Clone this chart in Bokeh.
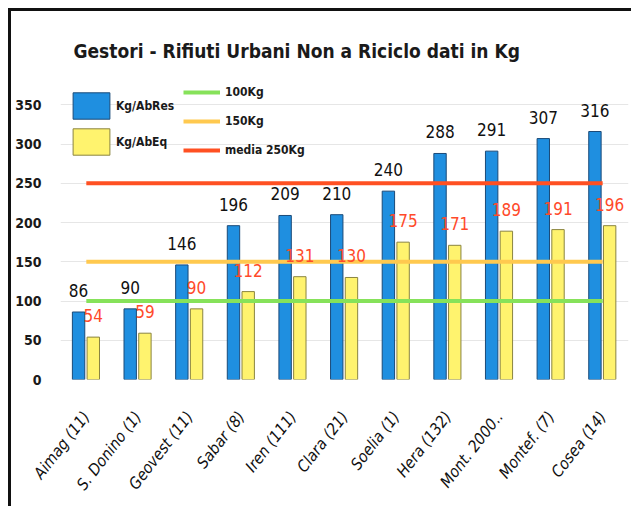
from bokeh.plotting import figure
from bokeh.models import (ColumnDataSource, FactorRange, Range1d, FixedTicker,
                          Legend, LegendItem)
from bokeh.transform import dodge
from bokeh.core.properties import value
from bokeh.embed import file_html
from bokeh.resources import INLINE

title_text = "Gestori - Rifiuti Urbani Non a Riciclo dati in Kg"
categories = ["Aimag (11)", "S. Donino (1)", "Geovest (11)", "Sabar (8)", "Iren (111)",
              "Clara (21)", "Soelia (1)", "Hera (132)", "Mont. 2000..", "Montef. (7)",
              "Cosea (14)"]
kg_abres = [86, 90, 146, 196, 209, 210, 240, 288, 291, 307, 316]
kg_abeq = [54, 59, 90, 112, 131, 130, 175, 171, 189, 191, 196]
ref_labels = ["100Kg", "150Kg", "media 250Kg"]
ref_values = [100, 150, 250]
y_ticks = [0, 50, 100, 150, 200, 250, 300, 350]

NARROW = "DejaVu Sans Condensed"

src = ColumnDataSource(dict(
    cat=categories, res=kg_abres, eq=kg_abeq,
    res_lbl=[str(v) for v in kg_abres], eq_lbl=[str(v) for v in kg_abeq]))

p = figure(width=623, height=498, output_backend="svg", toolbar_location=None,
           x_range=FactorRange(factors=categories, range_padding=0),
           y_range=Range1d(0, 381),
           min_border_left=49, min_border_right=6, min_border_top=69,
           min_border_bottom=130)
p.styles = {"border-top": "3px solid #111", "border-left": "3px solid #111",
            "margin-top": "8px", "margin-left": "8px"}
p.outline_line_color = None
p.background_fill_color = "white"
p.border_fill_color = "white"

p.title.text = title_text
p.title.text_font = NARROW
p.title.text_font_size = "19px"
p.title.text_font_style = "bold"
p.title.text_color = "#1a1a1a"
p.title.align = "left"
p.title.offset = 13
p.title.standoff = 38

p.xgrid.grid_line_color = None
p.ygrid.grid_line_color = "#e6e6e6"
p.ygrid.grid_line_width = 1

p.yaxis.ticker = FixedTicker(ticks=y_ticks)
p.yaxis.axis_line_color = None
p.yaxis.major_tick_line_color = None
p.yaxis.minor_tick_line_color = None
p.yaxis.major_label_text_font = NARROW
p.yaxis.major_label_text_font_style = "bold"
p.yaxis.major_label_text_font_size = "14px"
p.yaxis.major_label_text_color = "#1a1a1a"
p.yaxis.major_label_standoff = 13

p.xaxis.axis_line_color = None
p.xaxis.major_tick_line_color = None
p.xaxis.major_label_orientation = 0.91
p.xaxis.major_label_text_font = NARROW
p.xaxis.major_label_text_font_style = "italic"
p.xaxis.major_label_text_font_size = "16px"
p.xaxis.major_label_text_color = "#111111"
p.xaxis.major_label_standoff = 28

blue = p.vbar(x=dodge("cat", -0.15, range=p.x_range), top="res", width=0.24, source=src,
              fill_color="#1f8fe0", line_color="#1b4a78", line_width=1)
yellow = p.vbar(x=dodge("cat", 0.135, range=p.x_range), top="eq", width=0.24, source=src,
                fill_color="#fff36e", line_color="#8a8440", line_width=1)

line_colors = ["#86e25a", "#ffc94f", "#ff5022"]
line_renderers = []
for v, c in zip(ref_values, line_colors):
    r = p.line(x=categories, y=[v] * len(categories), line_color=c, line_width=4)
    line_renderers.append(r)

p.text(x=dodge("cat", -0.15, range=p.x_range), y="res", text="res_lbl", source=src,
       text_font=value(NARROW), text_font_size="17px", text_color="#111111",
       text_align="center", text_baseline="bottom", y_offset=-15)
p.text(x=dodge("cat", 0.135, range=p.x_range), y="eq", text="eq_lbl", source=src,
       text_font=value(NARROW), text_font_size="17px", text_color="#ff4a2a",
       text_align="center", text_baseline="bottom", y_offset=-15)

leg1 = Legend(items=[LegendItem(label="Kg/AbRes", renderers=[blue]),
                     LegendItem(label="Kg/AbEq", renderers=[yellow])],
              location=(8, 221), glyph_width=46, glyph_height=33, spacing=3,
              padding=0, margin=0, label_standoff=2,
              background_fill_alpha=0, border_line_alpha=0,
              label_text_font=NARROW, label_text_font_style="bold",
              label_text_font_size="12px", label_text_color="#1a1a1a")
leg2 = Legend(items=[LegendItem(label=l, renderers=[r]) for l, r in zip(ref_labels, line_renderers)],
              location=(123, 219), glyph_width=37, glyph_height=20, spacing=9,
              padding=0, margin=0, label_standoff=5,
              background_fill_alpha=0, border_line_alpha=0,
              label_text_font=NARROW, label_text_font_style="bold",
              label_text_font_size="12px", label_text_color="#1a1a1a")
p.add_layout(leg1, "center")
p.add_layout(leg2, "center")

open("out.html", "w").write(file_html(p, INLINE))
